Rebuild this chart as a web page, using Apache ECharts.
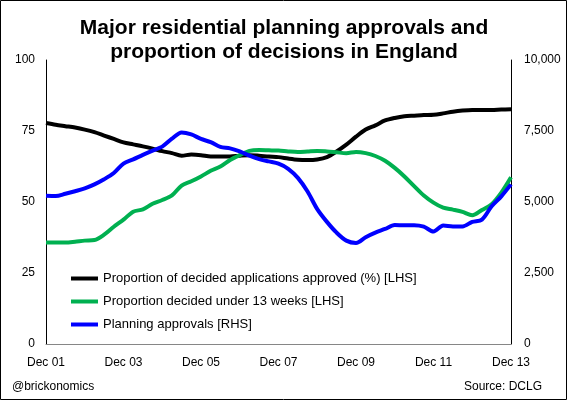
<!DOCTYPE html>
<html>
<head>
<meta charset="utf-8">
<script src="https://cdn.jsdelivr.net/npm/echarts@6/dist/echarts.min.js"></script>
<style>
html,body{margin:0;padding:0;background:#fff;}
#chart{width:568px;height:402px;}
</style>
</head>
<body>
<div id="chart"></div>
<script>
var categories = [
  'Dec 01','Mar 02','Jun 02','Sep 02','Dec 02','Mar 03','Jun 03','Sep 03',
  'Dec 03','Mar 04','Jun 04','Sep 04','Dec 04','Mar 05','Jun 05','Sep 05',
  'Dec 05','Mar 06','Jun 06','Sep 06','Dec 06','Mar 07','Jun 07','Sep 07',
  'Dec 07','Mar 08','Jun 08','Sep 08','Dec 08','Mar 09','Jun 09','Sep 09',
  'Dec 09','Mar 10','Jun 10','Sep 10','Dec 10','Mar 11','Jun 11','Sep 11',
  'Dec 11','Mar 12','Jun 12','Sep 12','Dec 12','Mar 13','Jun 13','Sep 13',
  'Dec 13'
];
var approvedPct = [
  77.8,77.2,76.7,76.2,75.5,74.6,73.4,72.2,
  71.0,70.3,69.6,68.8,67.9,67.2,66.3,66.7,
  66.5,66.0,66.0,66.0,66.3,66.5,66.3,66.0,
  65.8,65.3,64.9,64.8,65.0,65.8,67.8,70.2,
  73.0,75.5,77.0,78.7,79.6,80.2,80.4,80.6,
  80.7,81.2,81.8,82.2,82.4,82.4,82.4,82.6,
  82.7
];
var under13Pct = [
  35.7,35.7,35.7,36.0,36.4,36.6,38.5,41.3,
  43.8,46.6,47.4,49.4,50.7,52.3,55.8,57.3,
  59.0,61.0,62.5,64.8,66.5,68.0,68.3,68.2,
  68.1,67.8,67.6,67.8,68.0,67.8,67.5,67.2,
  67.6,67.2,66.2,64.5,62.0,59.0,55.6,52.3,
  49.8,48.0,47.3,46.5,45.3,47.2,49.2,53.3,
  58.7
];
var approvals = [
  5220,5210,5290,5380,5480,5620,5800,6020,
  6350,6500,6660,6810,6950,7230,7450,7380,
  7220,7110,6940,6890,6780,6630,6510,6430,
  6350,6170,5850,5370,4750,4300,3920,3640,
  3560,3760,3920,4050,4190,4180,4180,4130,
  3960,4170,4140,4140,4300,4380,4850,5200,
  5620
];
var seriesNames = [
  'Proportion of decided applications approved (%) [LHS]',
  'Proportion decided under 13 weeks [LHS]',
  'Planning approvals [RHS]'
];
var titleLines = ['Major residential planning approvals and', 'proportion of decisions in England'];

var FONT = '"Liberation Sans", Arial, sans-serif';
var chart = echarts.init(document.getElementById('chart'), null, {renderer: 'canvas'});

function fmtThousands(v){ return String(v).replace(/\B(?=(\d{3})+(?!\d))/g, ','); }

var colors = ['#000000', '#00B050', '#0000FF'];

chart.setOption({
  backgroundColor: '#ffffff',
  animation: false,
  color: colors,
  title: {
    text: titleLines.join('\n'),
    left: 'center',
    top: 11,
    textStyle: {fontFamily: FONT, fontSize: 21, fontWeight: 'bold', color: '#000', lineHeight: 24}
  },
  legend: {
    orient: 'vertical',
    left: 66,
    top: 264,
    itemWidth: 27,
    itemHeight: 4,
    itemGap: 4,
    icon: 'rect',
    data: seriesNames,
    textStyle: {fontFamily: FONT, fontSize: 13, color: '#000', lineHeight: 19}
  },
  grid: {left: 46, right: 57, top: 60, bottom: 58, containLabel: false},
  xAxis: {
    type: 'category',
    data: categories,
    boundaryGap: false,
    axisLine: {show: true, lineStyle: {color: '#868686', width: 1}},
    axisTick: {show: false},
    axisLabel: {interval: 7, color: '#000', fontFamily: FONT, fontSize: 12, margin: 13},
    splitLine: {show: false}
  },
  yAxis: [
    {
      type: 'value', min: 0, max: 100, interval: 25,
      axisLine: {show: true, lineStyle: {color: '#000', width: 1}},
      axisTick: {show: false},
      splitLine: {show: false},
      axisLabel: {color: '#000', fontFamily: FONT, fontSize: 12, margin: 11}
    },
    {
      type: 'value', min: 0, max: 10000, interval: 2500, position: 'right',
      axisLine: {show: true, lineStyle: {color: '#000', width: 1}},
      axisTick: {show: false},
      splitLine: {show: false},
      axisLabel: {color: '#000', fontFamily: FONT, fontSize: 12, margin: 13, formatter: fmtThousands}
    }
  ],
  series: [
    {name: seriesNames[0], type: 'line', yAxisIndex: 0, data: approvedPct, smooth: 0.3, showSymbol: false,
     lineStyle: {color: colors[0], width: 4}},
    {name: seriesNames[1], type: 'line', yAxisIndex: 0, data: under13Pct, smooth: 0.3, showSymbol: false,
     lineStyle: {color: colors[1], width: 4}},
    {name: seriesNames[2], type: 'line', yAxisIndex: 1, data: approvals, smooth: 0.3, showSymbol: false,
     lineStyle: {color: colors[2], width: 4}}
  ],
  graphic: [
    {type: 'rect', shape: {x: 0.5, y: 0.5, width: 566, height: 399}, style: {fill: null, stroke: '#000', lineWidth: 1}, silent: true},
    {type: 'text', left: 12, top: 381, style: {text: '@brickonomics', font: '12px ' + FONT, fill: '#000'}},
    {type: 'text', right: 26, top: 381, style: {text: 'Source: DCLG', font: '12px ' + FONT, fill: '#000'}}
  ]
});
</script>
</body>
</html>
